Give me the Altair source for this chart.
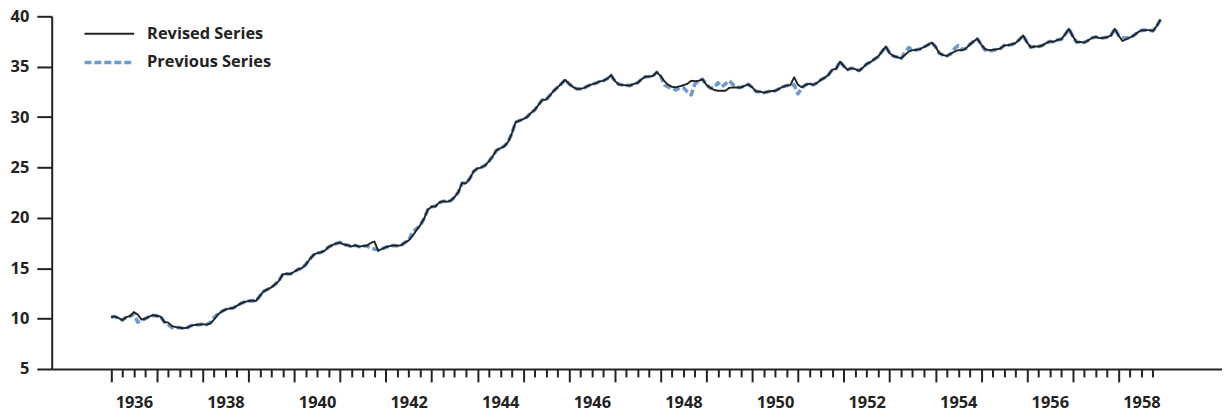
import altair as alt
import pandas as pd

SERIES = ["Revised Series", "Previous Series"]
START_YEAR = 1936
YEARS = [1936, 1937, 1938, 1939, 1940, 1941, 1942, 1943, 1944, 1945, 1946, 1947,
         1948, 1949, 1950, 1951, 1952, 1953, 1954, 1955, 1956, 1957, 1958]
Y_TICKS = [5, 10, 15, 20, 25, 30, 35, 40]

# Monthly values, Jan 1936 .. Dec 1958
REVISED = [
    10.16, 10.2, 10.05, 9.85, 10.15, 10.25, 10.65, 10.4, 9.9, 10.0, 10.2, 10.33,
    10.27, 10.2, 9.65, 9.6, 9.25, 9.15, 9.1, 9.05, 9.1, 9.3, 9.38, 9.4,
    9.44, 9.4, 9.5, 9.9, 10.4, 10.7, 10.9, 11.0, 11.05, 11.28, 11.5, 11.65,
    11.75, 11.78, 11.75, 12.25, 12.7, 12.9, 13.1, 13.4, 13.75, 14.4, 14.45, 14.43,
    14.65, 14.88, 15.0, 15.35, 15.85, 16.3, 16.5, 16.57, 16.75, 17.1, 17.3, 17.45,
    17.55, 17.35, 17.28, 17.15, 17.27, 17.14, 17.2, 17.23, 17.5, 17.65, 16.74, 16.92,
    17.08, 17.2, 17.26, 17.23, 17.27, 17.55, 17.75, 18.2, 18.75, 19.25, 19.9, 20.8,
    21.1, 21.15, 21.5, 21.65, 21.6, 21.7, 22.05, 22.55, 23.45, 23.43, 23.9, 24.6,
    24.9, 25.0, 25.2, 25.6, 26.1, 26.7, 26.9, 27.1, 27.5, 28.35, 29.49, 29.64,
    29.8, 30.0, 30.4, 30.7, 31.2, 31.7, 31.72, 32.15, 32.6, 32.95, 33.3, 33.7,
    33.3, 33.0, 32.8, 32.8, 32.9, 33.1, 33.25, 33.35, 33.53, 33.6, 33.8, 34.15,
    33.6, 33.25, 33.18, 33.15, 33.12, 33.3, 33.4, 33.75, 34.0, 34.02, 34.08, 34.45,
    34.08, 33.55, 33.2, 33.0, 32.95, 33.05, 33.17, 33.3, 33.6, 33.56, 33.6, 33.75,
    33.2, 32.9, 32.7, 32.61, 32.61, 32.61, 32.9, 32.94, 32.94, 32.94, 33.1, 33.25,
    32.95, 32.55, 32.52, 32.42, 32.5, 32.58, 32.6, 32.8, 33.0, 33.12, 33.17, 33.95,
    33.2, 32.95, 33.2, 33.32, 33.2, 33.4, 33.7, 33.9, 34.2, 34.7, 34.8, 35.5,
    35.05, 34.7, 34.85, 34.75, 34.6, 34.9, 35.27, 35.45, 35.74, 36.0, 36.5, 37.0,
    36.35, 36.05, 35.95, 35.82, 36.15, 36.5, 36.64, 36.66, 36.75, 36.95, 37.15, 37.4,
    37.0, 36.35, 36.15, 36.06, 36.27, 36.5, 36.64, 36.63, 36.8, 37.2, 37.5, 37.77,
    37.2, 36.75, 36.63, 36.68, 36.72, 36.8, 37.1, 37.13, 37.2, 37.35, 37.68, 38.1,
    37.42, 36.92, 37.0, 37.0, 37.1, 37.33, 37.5, 37.47, 37.65, 37.72, 38.2, 38.76,
    38.02, 37.43, 37.45, 37.4, 37.6, 37.85, 37.96, 37.83, 37.86, 37.92, 38.1, 38.76,
    38.1, 37.55, 37.72, 37.9, 38.1, 38.4, 38.6, 38.63, 38.63, 38.55, 39.03, 39.69,
]

PREVIOUS = [
    10.16, 10.2, 10.05, 9.85, 10.15, 10.25, 10.45, 9.65, 9.8, 10.0, 10.2, 10.33,
    10.27, 10.2, 9.65, 9.4, 9.1, 9.1, 9.1, 9.05, 9.1, 9.3, 9.38, 9.4,
    9.44, 9.4, 9.6, 10.1, 10.45, 10.7, 10.9, 11.0, 11.05, 11.28, 11.5, 11.65,
    11.75, 11.78, 11.75, 12.25, 12.7, 12.9, 13.1, 13.4, 13.75, 14.4, 14.45, 14.43,
    14.65, 14.88, 15.0, 15.35, 15.85, 16.3, 16.5, 16.57, 16.75, 17.1, 17.3, 17.45,
    17.55, 17.35, 17.28, 17.15, 17.27, 17.14, 17.2, 17.23, 17.0, 16.9, 16.8, 16.92,
    17.08, 17.2, 17.26, 17.23, 17.27, 17.55, 17.75, 18.6, 18.9, 19.25, 19.9, 20.8,
    21.1, 21.15, 21.5, 21.65, 21.6, 21.7, 22.05, 22.55, 23.45, 23.43, 23.9, 24.6,
    24.9, 25.0, 25.2, 25.6, 26.1, 26.7, 26.9, 27.1, 27.5, 28.35, 29.49, 29.64,
    29.8, 30.0, 30.4, 30.7, 31.2, 31.7, 31.72, 32.15, 32.6, 32.95, 33.3, 33.7,
    33.3, 33.0, 32.8, 32.8, 32.9, 33.1, 33.25, 33.35, 33.53, 33.6, 33.8, 34.15,
    33.6, 33.25, 33.18, 33.15, 33.12, 33.3, 33.4, 33.75, 34.0, 34.02, 34.08, 34.45,
    34.08, 33.2, 33.0, 32.8, 32.7, 32.9, 32.9, 32.5, 32.2, 33.3, 33.6, 33.75,
    33.2, 32.9, 32.9, 33.4, 33.0, 33.3, 33.6, 33.2, 32.95, 32.94, 33.1, 33.25,
    32.95, 32.55, 32.52, 32.42, 32.5, 32.58, 32.6, 32.8, 33.0, 33.12, 33.17, 33.2,
    32.3, 32.9, 33.2, 33.32, 33.2, 33.4, 33.7, 33.9, 34.2, 34.7, 34.8, 35.5,
    35.05, 34.7, 34.85, 34.75, 34.6, 34.9, 35.27, 35.45, 35.74, 36.0, 36.5, 37.0,
    36.35, 36.05, 35.95, 35.82, 36.4, 36.9, 36.64, 36.66, 36.75, 36.95, 37.15, 37.4,
    37.0, 36.35, 36.15, 36.06, 36.27, 36.8, 37.1, 36.7, 36.8, 37.2, 37.5, 37.77,
    37.2, 36.65, 36.55, 36.6, 36.72, 36.8, 37.1, 37.13, 37.2, 37.35, 37.68, 38.1,
    37.42, 36.92, 37.0, 37.0, 37.1, 37.33, 37.5, 37.47, 37.65, 37.72, 38.2, 38.76,
    38.02, 37.43, 37.45, 37.4, 37.6, 37.85, 37.96, 37.83, 37.86, 37.92, 38.1, 38.76,
    38.1, 37.9, 37.85, 37.9, 38.1, 38.4, 38.6, 38.63, 38.63, 38.55, 39.03, 39.69,
]

rows = []
for i, (r, p) in enumerate(zip(REVISED, PREVIOUS)):
    t = START_YEAR + i / 12.0
    rows.append({"t": t, "value": r, "series": SERIES[0]})
    rows.append({"t": t, "value": p, "series": SERIES[1]})
df = pd.DataFrame(rows)

QUARTER_TICKS = [y + q / 4.0 for y in YEARS for q in range(4)]

FONT = "Open Sans"
FS = 16.5
INK = "#222222"

x_enc = alt.X(
    "t:Q",
    scale=alt.Scale(domain=[1934.705, 1960.258], nice=False, zero=False),
    axis=alt.Axis(
        values=QUARTER_TICKS,
        title=None,
        grid=False,
        domainColor=INK,
        domainWidth=2,
        tickColor=INK,
        tickWidth=2,
        tickSize={"condition": {"test": "datum.value % 1 === 0", "value": 13}, "value": 8},
        labelExpr="datum.value % 2 === 0 ? format(datum.value, 'd') : ''",
        labelOffset=23,
        labelOverlap=False,
        labelFlush=False,
        labelPadding=13,
        labelFont=FONT,
        labelFontSize=FS,
        labelFontWeight="bold",
        labelColor=INK,
    ),
)

y_enc = alt.Y(
    "value:Q",
    scale=alt.Scale(domain=[5, 40], nice=False, zero=False),
    axis=alt.Axis(
        values=Y_TICKS,
        title=None,
        grid=False,
        domainColor=INK,
        domainWidth=2,
        tickColor=INK,
        tickWidth=2,
        tickSize=15,
        labelPadding=8,
        labelFont=FONT,
        labelFontSize=FS,
        labelFontWeight="bold",
        labelColor=INK,
    ),
)

legend = alt.Legend(
    title=None,
    orient="none",
    legendX=43.5,
    legendY=4,
    symbolType="M-2,0H2",
    symbolSize=625,
    symbolFillColor="transparent",
    labelFont=FONT,
    labelFontSize=FS,
    labelFontWeight="bold",
    labelColor=INK,
    labelOffset=23.5,
    rowPadding=6,
    padding=0,
)

color = alt.Color("series:N", scale=alt.Scale(domain=SERIES, range=[INK, "#6b9bd1"]), legend=legend)
dash = alt.StrokeDash("series:N", scale=alt.Scale(domain=SERIES, range=[[1, 0], [7, 3]]), legend=legend)
sw = alt.StrokeWidth("series:N", scale=alt.Scale(domain=SERIES, range=[1.9, 3.6]), legend=legend)

base = alt.Chart(df).mark_line(strokeCap="butt", strokeJoin="round").encode(
    x=x_enc, y=y_enc, color=color, strokeDash=dash, strokeWidth=sw
)

prev_layer = base.transform_filter(alt.datum.series == SERIES[1])
rev_layer = base.transform_filter(alt.datum.series == SERIES[0])

chart = alt.layer(prev_layer, rev_layer).properties(
    width=1178,
    height=355,
    autosize=alt.AutoSizeParams(type="none"),
    padding={"left": 44, "top": 7, "right": 0, "bottom": 48},
).configure_view(stroke=None)

chart.save("out.html", embed_options={"renderer": "svg", "actions": False})
